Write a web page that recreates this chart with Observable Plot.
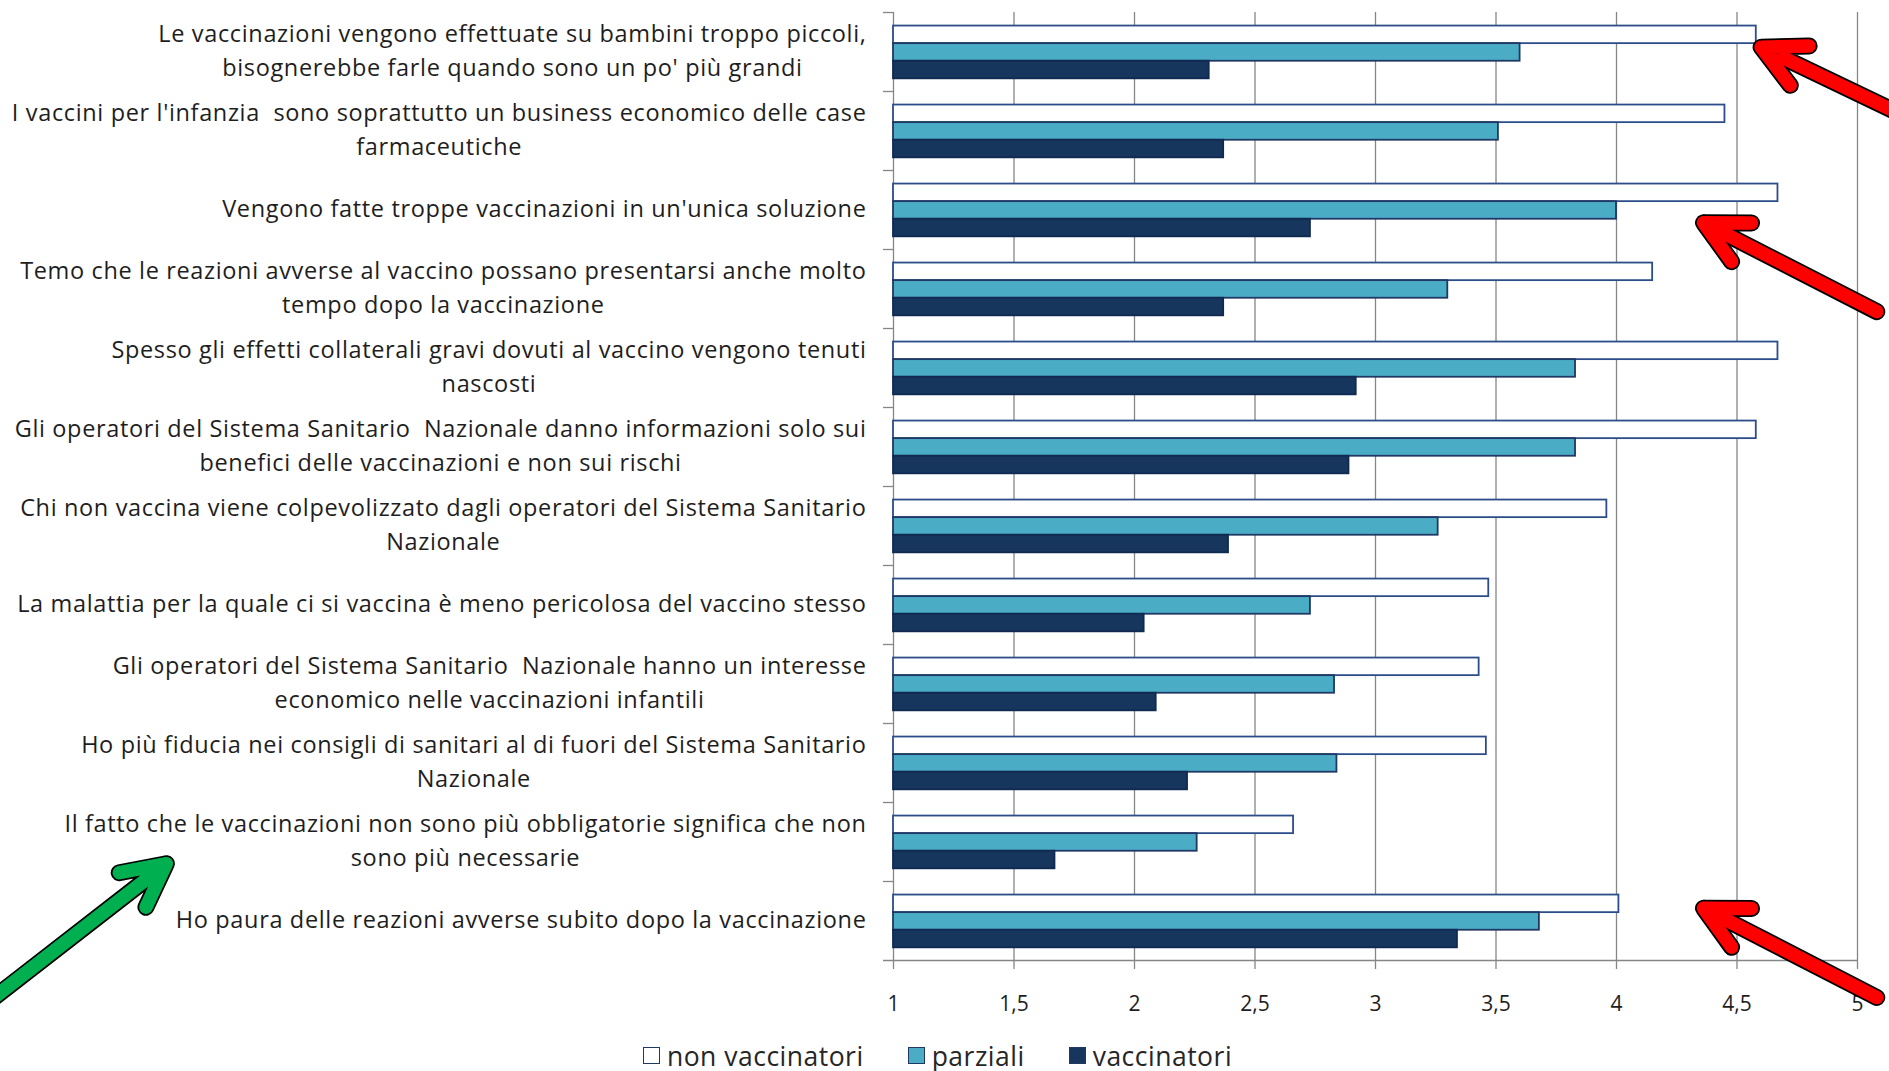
<!DOCTYPE html>
<html>
<head>
<meta charset="utf-8">
<script src="https://cdn.jsdelivr.net/npm/d3@7"></script>
<script src="https://cdn.jsdelivr.net/npm/@observablehq/plot@0.6"></script>
<style>
  html, body { margin: 0; padding: 0; background: #ffffff; overflow: hidden; }
  #chart svg { display: block; }
  g[aria-label="freccia"] { filter: drop-shadow(4px 4px 3px rgba(0,0,0,0.45)); }
  g[aria-label="fy-axis tick label"] { letter-spacing: 0.65px; }
  .legend { display: flex; justify-content: center; align-items: center; gap: 44px;
            height: 41px; padding-top: 5px; padding-right: 14px; font-family: 'Open Sans', sans-serif; font-size: 26.5px;
            letter-spacing: 0.5px; color: #262626; }
  .legend .item { display: flex; align-items: center; gap: 7px; }
  .legend .sw { width: 15px; height: 15px; border: 1.8px solid #1f3864; display: inline-block; }
</style>
</head>
<body>
<div id="chart"></div>
<div class="legend" id="legend"></div>
<script>
// ---- data ----
const categories = [
  "Le vaccinazioni vengono effettuate su bambini troppo piccoli,\nbisognerebbe farle quando sono un po' più grandi",
  "I vaccini per l'infanzia  sono soprattutto un business economico delle case\nfarmaceutiche",
  "Vengono fatte troppe vaccinazioni in un'unica soluzione",
  "Temo che le reazioni avverse al vaccino possano presentarsi anche molto\ntempo dopo la vaccinazione",
  "Spesso gli effetti collaterali gravi dovuti al vaccino vengono tenuti\nnascosti",
  "Gli operatori del Sistema Sanitario  Nazionale danno informazioni solo sui\nbenefici delle vaccinazioni e non sui rischi",
  "Chi non vaccina viene colpevolizzato dagli operatori del Sistema Sanitario\nNazionale",
  "La malattia per la quale ci si vaccina è meno pericolosa del vaccino stesso",
  "Gli operatori del Sistema Sanitario  Nazionale hanno un interesse\neconomico nelle vaccinazioni infantili",
  "Ho più fiducia nei consigli di sanitari al di fuori del Sistema Sanitario\nNazionale",
  "Il fatto che le vaccinazioni non sono più obbligatorie significa che non\nsono più necessarie",
  "Ho paura delle reazioni avverse subito dopo la vaccinazione"
];
const nonVaccinatori = [4.58, 4.45, 4.67, 4.15, 4.67, 4.58, 3.96, 3.47, 3.43, 3.46, 2.66, 4.01];
const parziali       = [3.60, 3.51, 4.00, 3.30, 3.83, 3.83, 3.26, 2.73, 2.83, 2.84, 2.26, 3.68];
const vaccinatori    = [2.31, 2.37, 2.73, 2.37, 2.92, 2.89, 2.39, 2.04, 2.09, 2.22, 1.67, 3.34];
const seriesNames = ["non vaccinatori", "parziali", "vaccinatori"];
const xTicks = [1, 1.5, 2, 2.5, 3, 3.5, 4, 4.5, 5];

// annotation arrows (tail -> tip), x in axis units, y in bar-slot units within the category row
const redArrowCategory = [categories[0], categories[2], categories[11]];
const redArrowTailX = [5.43, 5.08, 5.08];
const redArrowTailY = [6.65, 7.25, 5.82];
const redArrowTipX  = [4.6, 4.361, 4.361];
const redArrowTipY  = [1.2, 2.2, 0.75];
const greenArrowCategory = [categories[10]];
const greenArrowTailX = [-2.87];
const greenArrowTailY = [11.78];
const greenArrowTipX  = [-2.017];
const greenArrowTipY  = [2.71];

// ---- styles ----
const FONT = "'Open Sans', 'Liberation Sans', sans-serif";
const seriesFill   = ["#ffffff", "#4bacc6", "#17365d"];
const seriesStroke = ["#2c4d8a", "#1f3864", "#102a52"];
const gridColor = "#868686";
const textColor = "#1e1e1e";
const yDomain = [-0.77, 3.72];

// ---- tidy tables ----
const seriesValues = [nonVaccinatori, parziali, vaccinatori];
const rows = categories.flatMap((c, i) => seriesNames.map((s, k) => ({category: c, serie: s, k, value: seriesValues[k][i]})));
const mkArrows = (cats, tx, ty, hx, hy) => cats.map((c, i) => ({category: c, x1: tx[i], y1: ty[i], x2: hx[i], y2: hy[i]}));
const redArrows = mkArrows(redArrowCategory, redArrowTailX, redArrowTailY, redArrowTipX, redArrowTipY);
const greenArrows = mkArrows(greenArrowCategory, greenArrowTailX, greenArrowTailY, greenArrowTipX, greenArrowTipY);

const arrowMarks = (data, color) => [
  Plot.arrow(data, {fy: "category", x1: "x1", y1: "y1", x2: "x2", y2: "y2", stroke: "#000000", strokeWidth: 17,
    headLength: 4.24, headAngle: 54, strokeLinecap: "round", strokeLinejoin: "miter", ariaLabel: "freccia"}),
  Plot.arrow(data, {fy: "category", x1: "x1", y1: "y1", x2: "x2", y2: "y2", stroke: color, strokeWidth: 13.5,
    headLength: 5.33, headAngle: 54, strokeLinecap: "round", strokeLinejoin: "miter"})
];

const svg = Plot.plot({
  width: 1889,
  height: 1030,
  marginLeft: 893,
  marginRight: 32,
  marginTop: 10,
  marginBottom: 69,
  style: {fontFamily: FONT, overflow: "hidden", background: "#ffffff"},
  x: {domain: [1, 5]},
  y: {domain: yDomain, reverse: true, axis: null},
  fy: {domain: categories, padding: 0},
  marks: [
    Plot.ruleX(xTicks.slice(1), {stroke: gridColor, strokeWidth: 1.3}),
    Plot.ruleX([xTicks[0]], {stroke: gridColor, strokeWidth: 1.3}),
    Plot.ruleY(categories, {fy: d => d, y: yDomain[0], x1: xTicks[0], x2: xTicks[0], insetLeft: -10, stroke: gridColor, strokeWidth: 1.3}),
    Plot.ruleY([categories[categories.length - 1]], {fy: d => d, y: yDomain[1], x1: xTicks[0], x2: xTicks[xTicks.length - 1], insetLeft: -10, stroke: gridColor, strokeWidth: 1.3}),
    ...seriesNames.map((s, k) => Plot.rect(rows.filter(d => d.k === k), {
      fy: "category", x1: xTicks[0], x2: "value", y1: "k", y2: d => d.k + 1,
      fill: seriesFill[k], stroke: seriesStroke[k], strokeWidth: 1.8
    })),
    Plot.axisX({ticks: xTicks, tickFormat: d => String(d).replace(".", ","), tickSize: 9, tickPadding: 27,
      fontSize: 21, stroke: gridColor, strokeWidth: 1.3, fill: textColor, label: null}),
    Plot.axisFy({anchor: "left", tickSize: 0, tickPadding: 27, fontSize: 23.5, lineHeight: 1.45, dy: -4,
      fill: textColor, label: null, lineWidth: Infinity}),
    ...arrowMarks(redArrows, "#ff0000"),
    ...arrowMarks(greenArrows, "#00b050")
  ]
});

document.getElementById("chart").append(svg);

// centre the wrapped second lines under the first line, as in the original
svg.querySelectorAll('g[aria-label="fy-axis tick label"] text').forEach(t => {
  const spans = t.querySelectorAll("tspan");
  if (spans.length < 2) return;
  const w = Math.max(...Array.from(spans, s => s.getComputedTextLength()));
  t.setAttribute("text-anchor", "middle");
  spans.forEach(s => s.setAttribute("x", -w / 2));
});

// legend
const legend = document.getElementById("legend");
seriesNames.forEach((s, k) => {
  const item = document.createElement("div");
  item.className = "item";
  const sw = document.createElement("span");
  sw.className = "sw";
  sw.style.background = seriesFill[k];
  const lab = document.createElement("span");
  lab.textContent = s;
  item.append(sw, lab);
  legend.append(item);
});
</script>
</body>
</html>
